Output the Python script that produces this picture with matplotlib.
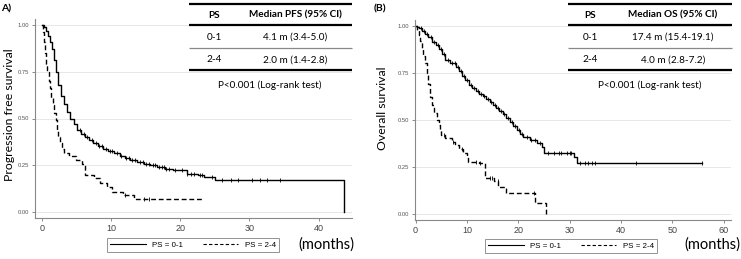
import matplotlib
matplotlib.use("Agg")
import matplotlib.pyplot as plt
import numpy as np

# ---- data (months, survival probability) ----
pfs01_t = [0, 0.3, 0.6, 0.9, 1.2, 1.5, 1.8, 2.1, 2.4, 2.8, 3.2, 3.6, 4.1, 4.6, 5.1, 5.6, 6.2,
           6.8, 7.4, 8.1, 8.8, 9.6, 10.4, 11.3, 12.0, 12.8, 13.7, 14.7, 15.6, 16.7, 17.8, 19.0,
           21.0, 22.5, 23.5, 25.0, 43.7]
pfs01_s = [1.0, 0.985, 0.965, 0.94, 0.91, 0.87, 0.81, 0.75, 0.68, 0.62, 0.575, 0.535, 0.50,
           0.47, 0.44, 0.42, 0.40, 0.385, 0.37, 0.355, 0.34, 0.328, 0.315, 0.30, 0.29, 0.28,
           0.27, 0.26, 0.25, 0.243, 0.232, 0.225, 0.207, 0.20, 0.19, 0.172, 0.0]
pfs01_cens = [5.5, 6.1, 6.6, 7.2, 7.8, 8.3, 8.7, 9.3, 9.9, 10.2, 10.8, 11.5, 12.2, 12.6, 13.1,
              13.5, 14.2, 14.6, 15.1, 15.5, 16.0, 16.4, 16.9, 17.3, 17.6, 18.0, 18.4, 19.3,
              20.2, 21.0, 21.5, 22.0, 22.8, 23.2, 24.6, 26.0, 27.4, 28.3, 30.4, 31.5, 32.5, 34.4]

pfs24_t = [0, 0.2, 0.35, 0.5, 0.65, 0.8, 1.0, 1.2, 1.4, 1.6, 1.8, 2.0, 2.2, 2.4, 2.6, 2.9, 3.2,
           3.9, 5.0, 5.8, 6.3, 7.5, 8.4, 9.4, 10.1, 11.8, 13.3, 23.1]
pfs24_s = [1.0, 0.96, 0.91, 0.85, 0.79, 0.75, 0.70, 0.66, 0.61, 0.57, 0.53, 0.49, 0.44, 0.40,
           0.37, 0.34, 0.315, 0.30, 0.28, 0.26, 0.20, 0.183, 0.155, 0.137, 0.11, 0.092, 0.07, 0.07]
pfs24_cens = [12.0, 14.8, 15.5]

os01_t = [0, 0.3, 0.7, 1.2, 1.8, 2.5, 3.2, 3.9, 4.5, 5.2, 5.8, 6.8, 7.8, 8.4, 9.0, 9.7, 10.4,
          11.0, 11.7, 12.4, 13.1, 13.8, 14.4, 15.0, 15.7, 16.3, 17.0, 17.6, 18.3, 19.0, 19.7,
          20.3, 21.0, 22.3, 23.6, 24.6, 25.0, 30.9, 31.5, 55.8]
os01_s = [1.0, 0.995, 0.985, 0.97, 0.955, 0.94, 0.915, 0.895, 0.875, 0.85, 0.82, 0.80, 0.78,
          0.76, 0.735, 0.71, 0.685, 0.67, 0.655, 0.64, 0.625, 0.61, 0.595, 0.58, 0.565, 0.548,
          0.53, 0.51, 0.49, 0.468, 0.447, 0.428, 0.41, 0.394, 0.376, 0.358, 0.323, 0.305,
          0.273, 0.273]
os01_cens = [1.0, 1.6, 2.3, 3.0, 3.6, 4.3, 5.0, 5.6, 6.3, 7.0, 7.6, 8.2, 8.9, 9.5, 10.1, 10.8,
             11.4, 12.1, 12.8, 13.4, 14.1, 14.7, 15.4, 16.0, 16.7, 17.3, 18.0, 18.7, 19.4,
             20.1, 20.8, 21.6, 22.5, 23.3, 24.2, 25.8, 27.0, 28.0, 28.3, 29.5, 30.0, 30.3,
             32.0, 33.0, 33.6, 34.3, 35.0, 43.0, 55.8]

os24_t = [0, 0.3, 0.6, 0.9, 1.2, 1.5, 1.9, 2.2, 2.5, 2.8, 3.2, 3.5, 4.2, 4.5, 4.8, 5.0, 5.8,
          7.1, 7.6, 8.4, 9.2, 10.0, 10.2, 12.3, 13.6, 15.2, 16.1, 17.7, 23.3, 25.3]
os24_s = [1.0, 0.975, 0.95, 0.92, 0.88, 0.84, 0.80, 0.75, 0.69, 0.62, 0.58, 0.535, 0.50, 0.473,
          0.447, 0.42, 0.403, 0.385, 0.367, 0.345, 0.323, 0.305, 0.279, 0.27, 0.191, 0.178,
          0.143, 0.111, 0.058, 0.0]
os24_cens = [5.5, 7.3, 9.0, 11.8, 12.6, 14.5, 14.9, 16.0, 23.0]

y_ticks = [0, 0.25, 0.5, 0.75, 1.0]
y_ticklabels = ["0.00", "0.25", "0.50", "0.75", "1.00"]
pfs_xticks = [0, 10, 20, 30, 40]
os_xticks = [0, 10, 20, 30, 40, 50, 60]

pfs_table = [["PS", "Median PFS (95% CI)"], ["0-1", "4.1 m (3.4-5.0)"], ["2-4", "2.0 m (1.4-2.8)"]]
os_table = [["PS", "Median OS (95% CI)"], ["0-1", "17.4 m (15.4-19.1)"], ["2-4", "4.0 m (2.8-7.2)"]]
p_text = "P<0.001 (Log-rank test)"

W, H = 741, 259
fig = plt.figure(figsize=(W / 100, H / 100), dpi=100)
fig.patch.set_facecolor("white")


def step_at(ts, ss, x):
    i = np.searchsorted(ts, x, side="right") - 1
    return np.asarray(ss)[i]


def km_panel(rect, xlim, xticks, curves):
    ax = fig.add_axes(rect)
    for ts, ss, cens, ls in curves:
        if ls == "--":
            ax.step(ts, ss, where="post", color="black", lw=1.0, linestyle="--", dashes=(3.5, 2))
        else:
            ax.step(ts, ss, where="post", color="black", lw=1.0)
        ax.plot(cens, step_at(ts, ss, cens), linestyle="none", marker="|",
                ms=3, mew=0.6, color="black")
    ax.set_xlim(*xlim)
    ax.set_ylim(-0.03, 1.03)
    ax.set_yticks(y_ticks)
    ax.set_yticklabels(y_ticklabels, fontsize=4.2, color="#555555", family="Liberation Sans")
    ax.set_xticks(xticks)
    ax.set_xticklabels([str(v) for v in xticks], fontsize=6.5, color="#444444",
                       family="Liberation Sans")
    ax.tick_params(length=2.5, width=0.6, color="#777777", pad=1.5)
    for s in ["top", "right"]:
        ax.spines[s].set_visible(False)
    for s in ["left", "bottom"]:
        ax.spines[s].set_color("#888888")
        ax.spines[s].set_linewidth(0.8)
    ax.yaxis.grid(True, color="#e3e3e3", lw=0.6)
    ax.set_axisbelow(True)
    return ax


axA = km_panel([35 / W, 1 - 218 / H, 317 / W, 199 / H], (-0.97, 44.8), pfs_xticks,
               [(pfs01_t, pfs01_s, pfs01_cens, "-"), (pfs24_t, pfs24_s, pfs24_cens, "--")])
axB = km_panel([415 / W, 1 - 220 / H, 316 / W, 200 / H], (-0.11, 61.4), os_xticks,
               [(os01_t, os01_s, os01_cens, "-"), (os24_t, os24_s, os24_cens, "--")])

# legends below each panel
for ax, cx, cy in [(axA, 193 / W, 1 - 245 / H), (axB, 571 / W, 1 - 246 / H)]:
    h1, = ax.plot([], [], color="black", lw=0.8)
    h2, = ax.plot([], [], color="black", lw=0.8, linestyle="--", dashes=(3, 2))
    leg = fig.legend([h1, h2], ["PS = 0-1", "PS = 2-4"], loc="center", bbox_to_anchor=(cx, cy),
                     ncol=2, frameon=True, fancybox=False, handlelength=4.5, columnspacing=2.5,
                     handletextpad=0.8, borderpad=0.35,
                     prop={"family": "Liberation Sans", "size": 5.7})
    leg.get_frame().set_edgecolor("#777777")
    leg.get_frame().set_linewidth(0.7)

# overlay in pixel coordinates for labels and the median tables
ov = fig.add_axes([0, 0, 1, 1])
ov.set_xlim(0, W)
ov.set_ylim(H, 0)
ov.axis("off")

lab = dict(family="Lato", color="black")
ov.text(1, 9, "A)", fontsize=7.5, fontweight="bold", ha="left", va="center", **lab)
ov.text(374, 9, "(B)", fontsize=7.5, fontweight="bold", ha="left", va="center", **lab)
ov.text(10, 115, "Progression free survival", rotation=90, fontsize=8.8, ha="center",
        va="center", **lab)
ov.text(382, 108, "Overall survival", rotation=90, fontsize=8.8, ha="center", va="center", **lab)
ov.text(326, 245, "(months)", fontsize=10.5, ha="center", va="center", **lab)
ov.text(712, 245, "(months)", fontsize=10.5, ha="center", va="center", **lab)


def med_table(x0, x1, cx1, cx2, rows, px):
    for y, lw, c in [(4, 1.6, "black"), (25, 1.6, "black"), (48, 0.9, "#888888"),
                     (70, 1.6, "black")]:
        ov.plot([x0, x1], [y, y], color=c, lw=lw, solid_capstyle="butt")
    for (a, b), y in zip(rows, [15, 37, 60]):
        w = "bold" if y == 15 else "normal"
        ov.text(cx1, y, a, fontsize=7.2, fontweight=w, ha="center", va="center", **lab)
        ov.text(cx2, y, b, fontsize=7.2, fontweight=w, ha="center", va="center", **lab)
    ov.text(px, 85, p_text, fontsize=7.2, ha="center", va="center", **lab)


med_table(189, 352, 214, 295, pfs_table, 270)
med_table(568, 732, 590, 673, os_table, 650)

fig.savefig("out.png", dpi=100)
